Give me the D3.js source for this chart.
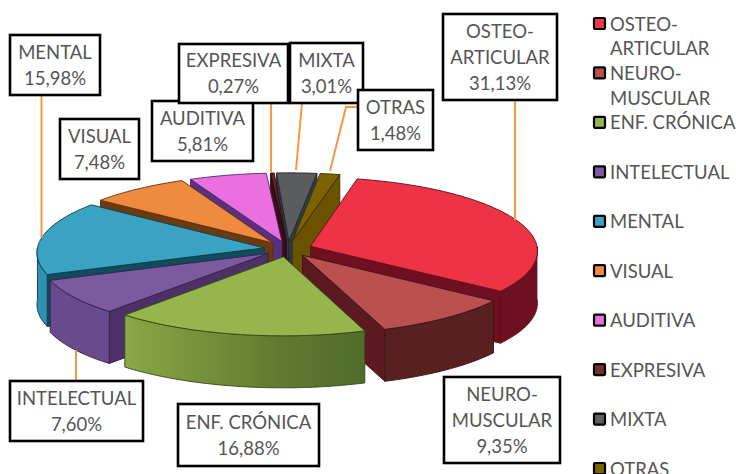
<!DOCTYPE html>
<html><head><meta charset="utf-8">
<script src="https://cdn.jsdelivr.net/npm/d3@7"></script>
<style>html,body{margin:0;padding:0;background:#fff}svg{display:block}text{font-family:Lato,"Open Sans",sans-serif;fill:#555}</style>
</head><body><svg id="c" width="736" height="474"></svg>
<script>
// Data
const categories = ["OSTEO-ARTICULAR","NEURO-MUSCULAR","ENF. CRÓNICA","INTELECTUAL","MENTAL","VISUAL","AUDITIVA","EXPRESIVA","MIXTA","OTRAS"];
const values = [31.13,9.35,16.88,7.60,15.98,7.48,5.81,0.27,3.01,1.48];
const valueLabels = ["31,13%","9,35%","16,88%","7,60%","15,98%","7,48%","5,81%","0,27%","3,01%","1,48%"];
const legendLines = [["OSTEO-","ARTICULAR"],["NEURO-","MUSCULAR"],["ENF. CRÓNICA"],["INTELECTUAL"],["MENTAL"],["VISUAL"],["AUDITIVA"],["EXPRESIVA"],["MIXTA"],["OTRAS"]];
const labelLines = legendLines;
// Styles
const topColors  = ["#ee3344","#bb5050","#95b54d","#7d5aa0","#3aa3c4","#ef8a3e","#ea70e0","#6b1f2b","#5a5c60","#7d6200"];
const swatchColors = ["#f03a4a","#bb5050","#95b54d","#7d5aa0","#3aa3c4","#ef8a3e","#ea70e0","#7a2e30","#5f5f5f","#7d6200"];
const rimColors  = ["#6f1020","#5a1f1f","#6f8c38","#6a4a8e","#3191b2","#a85c20","#a04a98","#4a1018","#3a3c40","#5c4800"];
const wallColors = ["#6f0f20","#5a1a20","#4f6a28","#4e3068","#0f4d5e","#6b3a10","#5a2f80","#3a0d14","#2a3a50","#6a5200"];
const edgeColors = ["#5a1020","#3a1414","#33471a","#33204a","#0d3a48","#5a3010","#4a2a66","#2a0a10","#20242a","#3a3000"];
// Label boxes: x, y, w, h and leader polyline
const boxes = [
 {x:443,y:14,w:114,h:86,leader:[[515,100],[515,220]]},
 {x:444,y:377,w:116,h:86,leader:null},
 {x:178,y:404,w:141,h:62,leader:null},
 {x:10,y:381,w:133,h:60,leader:[[76,381],[76,350]]},
 {x:10,y:35,w:90,h:60,leader:[[41.5,95],[41.5,238]]},
 {x:60,y:119,w:79,h:60,leader:null},
 {x:152,y:101,w:101,h:60,leader:null},
 {x:179,y:44,w:109,h:59,leader:[[271,103],[271,172]]},
 {x:290,y:43,w:73,h:60,leader:[[302,103],[296,170]]},
 {x:358,y:90,w:75,h:60,leader:[[358,107],[346,107],[330,171]]}
];
const cx=288, cy=249, rx=227, ryRatio=0.325, depth=52, explode=24, persp=0.06;
const svg=d3.select("#c");
const defs=svg.append("defs");
const greenGrad=defs.append("linearGradient").attr("id","greenRim");
greenGrad.append("stop").attr("offset","0%").attr("stop-color","#8aa845");
greenGrad.append("stop").attr("offset","65%").attr("stop-color","#5f7a30");
greenGrad.append("stop").attr("offset","100%").attr("stop-color","#4f6c2a");

const pie=d3.pie().sort(null).value(d=>d).startAngle(13*Math.PI/180).endAngle(373*Math.PI/180);
const arcs=pie(values);
const line=d3.line();
function project(a,r,mid,dz){
  const ux=r*Math.sin(a)+explode*Math.sin(mid);
  const uy=-r*Math.cos(a)-explode*Math.cos(mid);
  const k=1+persp*uy/rx;
  return [cx+ux*k, cy+uy*ryRatio*k+(dz||0)];
}
function arcPts(a0,a1,mid,dz){
  const n=Math.max(2,Math.ceil((a1-a0)*40));
  return d3.range(n+1).map(i=>project(a0+(a1-a0)*i/n,rx,mid,dz));
}
const order=arcs.map((d,i)=>({d,i,mid:(d.startAngle+d.endAngle)/2}));
order.sort((a,b)=>d3.descending(Math.cos(a.mid),Math.cos(b.mid)));
const g=svg.append("g").attr("stroke-linejoin","round");
order.forEach(({d,i,mid})=>{
  const gs=g.append("g").attr("stroke",edgeColors[i]).attr("stroke-width",0.9);
  const wall=(a)=>{
    const t0=project(a,0,mid),t1=project(a,rx,mid),b1=project(a,rx,mid,depth),b0=project(a,0,mid,depth);
    gs.append("path").attr("d",line([t0,t1,b1,b0])+"Z").attr("fill",wallColors[i]);
  };
  const sa=d.startAngle, ea=d.endAngle;
  if(Math.sin(sa)<0) wall(sa);
  if(Math.sin(ea)>0) wall(ea);
  const a0=Math.max(sa,Math.PI/2), a1=Math.min(ea,3*Math.PI/2);
  if(a1>a0){
    const top=arcPts(a0,a1,mid,0), bot=arcPts(a0,a1,mid,depth).reverse();
    gs.append("path").attr("d",line(top.concat(bot))+"Z").attr("fill",i===2?"url(#greenRim)":rimColors[i]);
  }
  const pts=[project(0,0,mid)].concat(arcPts(sa,ea,mid,0));
  gs.append("path").attr("d",line(pts)+"Z").attr("fill",topColors[i]);
});

// Leader lines
boxes.forEach(b=>{ if(b.leader) svg.append("path").attr("d",line(b.leader)).attr("fill","none").attr("stroke","#f79646").attr("stroke-width",2); });
// Labels
const fs=18.5, lh=26;
boxes.forEach((b,i)=>{
  svg.append("rect").attr("x",b.x).attr("y",b.y).attr("width",b.w).attr("height",b.h)
    .attr("fill","#fff").attr("stroke","#000").attr("stroke-width",2.6);
  const lines=labelLines[i].concat([valueLabels[i]]);
  const mid=b.y+b.h/2;
  lines.forEach((t,j)=>{
    svg.append("text").attr("x",b.x+b.w/2).attr("y",mid+(j-(lines.length-1)/2)*lh+6.5)
      .attr("text-anchor","middle").attr("font-size",fs).text(t);
  });
});
// Legend
const legendY=d3.scaleLinear().domain([0,9]).range([24,469]);
const lg=svg.append("g");
categories.forEach((c,i)=>{
  const y=legendY(i);
  lg.append("rect").attr("x",594).attr("y",y-6).attr("width",11).attr("height",11)
    .attr("fill",swatchColors[i]).attr("stroke","#000").attr("stroke-width",2.2).attr("rx",1);
  legendLines[i].forEach((t,j)=>{
    lg.append("text").attr("x",610).attr("y",y+6.5+j*24.7).attr("font-size",18.5).text(t);
  });
});
</script></body></html>
